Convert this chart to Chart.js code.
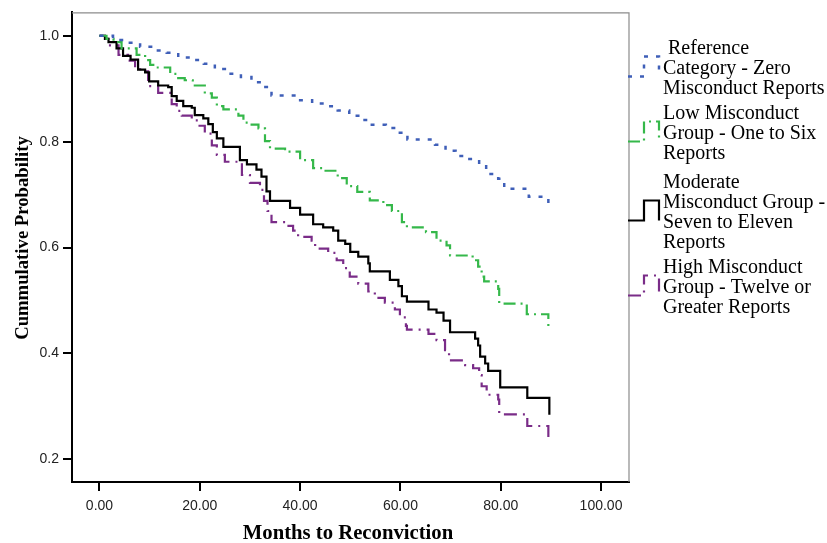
<!DOCTYPE html>
<html>
<head>
<meta charset="utf-8">
<script src="https://cdn.jsdelivr.net/npm/chart.js@4.4.0/dist/chart.umd.min.js"></script>
<style>
  html, body { margin: 0; padding: 0; background: #fff; }
  #wrap { width: 827px; height: 543px; position: relative; }
</style>
</head>
<body>
<div id="wrap"><canvas id="km" width="827" height="543"></canvas></div>
<script>
// Kaplan-Meier style curves: month of each drop and the survival value after it
const zeroMonths = [0, 2.7, 5.4, 8.1, 10.6, 13.4, 15.7, 18.4, 20.8, 23.0, 25.6, 28.2, 30.3, 32.6, 34.3, 39.6, 42.4, 45.0, 47.5, 49.8, 52.3, 54.3, 57.1, 59.4, 61.4, 66.9, 69.0, 71.0, 73.5, 75.7, 77.1, 79.5, 80.7, 85.6, 89.5];
const zeroSurv = [1.0, 0.992, 0.987, 0.979, 0.972, 0.968, 0.959, 0.954, 0.947, 0.937, 0.928, 0.922, 0.912, 0.903, 0.887, 0.878, 0.872, 0.867, 0.859, 0.849, 0.841, 0.832, 0.826, 0.817, 0.804, 0.794, 0.783, 0.773, 0.767, 0.757, 0.739, 0.730, 0.711, 0.696, 0.675];

const lowMonths = [0, 1.4, 2.8, 4.4, 7.4, 9.1, 10.1, 11.4, 14.1, 15.4, 17.0, 18.6, 21.0, 22.4, 23.4, 24.7, 27.7, 28.7, 30.0, 31.7, 33.0, 34.0, 37.0, 40.0, 42.6, 44.6, 47.5, 49.3, 51.4, 53.9, 56.6, 58.3, 60.3, 61.3, 65.1, 67.2, 69.2, 69.9, 74.4, 75.5, 76.2, 76.7, 79.5, 79.7, 85.2, 89.5];
const lowSurv = [1.0, 0.994, 0.988, 0.976, 0.964, 0.954, 0.945, 0.940, 0.928, 0.920, 0.916, 0.906, 0.891, 0.883, 0.867, 0.861, 0.849, 0.836, 0.832, 0.825, 0.801, 0.787, 0.781, 0.765, 0.750, 0.745, 0.731, 0.716, 0.705, 0.689, 0.680, 0.669, 0.648, 0.638, 0.629, 0.613, 0.604, 0.585, 0.576, 0.564, 0.545, 0.536, 0.522, 0.494, 0.474, 0.452];

const moderateMonths = [0, 1.1, 1.8, 3.4, 4.7, 6.2, 7.7, 9.1, 9.9, 11.7, 13.7, 14.4, 15.4, 16.7, 18.4, 19.0, 20.7, 21.7, 22.6, 23.4, 24.7, 28.0, 29.4, 31.3, 32.3, 33.3, 34.0, 38.0, 40.0, 42.6, 44.6, 46.6, 47.6, 49.0, 50.0, 51.6, 53.6, 53.9, 57.9, 59.6, 60.3, 61.3, 65.6, 67.2, 68.6, 69.9, 74.9, 75.5, 75.9, 76.9, 77.5, 79.9, 85.3, 89.7];
const moderateSurv = [1.0, 0.994, 0.988, 0.976, 0.962, 0.955, 0.936, 0.931, 0.914, 0.906, 0.903, 0.886, 0.877, 0.867, 0.864, 0.850, 0.844, 0.833, 0.818, 0.806, 0.790, 0.765, 0.757, 0.747, 0.734, 0.706, 0.688, 0.675, 0.662, 0.644, 0.638, 0.632, 0.613, 0.607, 0.592, 0.583, 0.570, 0.555, 0.539, 0.527, 0.508, 0.498, 0.483, 0.477, 0.462, 0.440, 0.428, 0.415, 0.394, 0.381, 0.367, 0.336, 0.316, 0.284];

const highMonths = [0, 1.1, 2.1, 3.8, 5.7, 7.1, 8.1, 9.7, 11.7, 14.4, 15.4, 16.4, 18.4, 19.7, 21.0, 22.4, 23.4, 25.0, 28.4, 30.0, 32.0, 32.8, 33.5, 34.3, 37.3, 38.6, 39.6, 42.3, 43.0, 45.6, 47.3, 48.6, 49.9, 51.6, 53.6, 54.9, 56.9, 58.9, 59.9, 61.1, 61.3, 65.6, 67.2, 68.9, 69.7, 72.9, 74.5, 75.7, 76.2, 77.2, 79.5, 79.7, 85.3, 89.5];
const highSurv = [1.0, 0.994, 0.982, 0.964, 0.953, 0.939, 0.933, 0.905, 0.892, 0.871, 0.858, 0.849, 0.840, 0.830, 0.815, 0.793, 0.775, 0.762, 0.737, 0.722, 0.709, 0.688, 0.669, 0.648, 0.641, 0.632, 0.620, 0.613, 0.598, 0.590, 0.576, 0.561, 0.545, 0.532, 0.517, 0.505, 0.496, 0.483, 0.468, 0.452, 0.445, 0.437, 0.425, 0.406, 0.387, 0.378, 0.372, 0.359, 0.338, 0.322, 0.313, 0.285, 0.263, 0.234];

const xTicks = [0, 20, 40, 60, 80, 100];
const yTicks = [0.2, 0.4, 0.6, 0.8, 1.0];

const legendLines = [
  [" Reference", "Category - Zero", "Misconduct Reports"],
  ["Low Misconduct", "Group - One to Six", "Reports"],
  ["Moderate", "Misconduct Group -", "Seven to Eleven", "Reports"],
  ["High Misconduct", "Group - Twelve or", "Greater Reports"]
];

const colors = ["#3f5fb8", "#35b84a", "#000000", "#7a2c88"];
const dashes = [[4, 8], [12, 5, 2, 5], [], [13, 6, 2, 6]];
const widths = [2.5, 2.2, 2.2, 2.2];

function toPoints(months, surv) {
  return months.map((m, i) => ({ x: m, y: surv[i] }));
}

const series = [
  toPoints(zeroMonths, zeroSurv),
  toPoints(lowMonths, lowSurv),
  toPoints(moderateMonths, moderateSurv),
  toPoints(highMonths, highSurv)
];

const serif = "'Liberation Serif', 'Times New Roman', serif";
const sans = "'Liberation Sans', Arial, sans-serif";

// titles, frame and the step-shaped legend keys
const decor = {
  id: "decor",
  afterDraw(chart) {
    const ctx = chart.ctx;
    const a = chart.chartArea;
    ctx.save();
    ctx.strokeStyle = "#8c8c8c";
    ctx.lineWidth = 1.2;
    ctx.beginPath();
    ctx.moveTo(a.left, a.top + 0.5);
    ctx.lineTo(a.right, a.top + 0.5);
    ctx.lineTo(a.right, a.bottom);
    ctx.stroke();

    ctx.fillStyle = "#000";
    ctx.textAlign = "center";
    ctx.textBaseline = "middle";
    ctx.font = "bold 20.7px " + serif;
    ctx.fillText("Months to Reconviction", 348, 534);
    ctx.save();
    ctx.font = "bold 18.7px " + serif;
    ctx.translate(23, 238);
    ctx.rotate(-Math.PI / 2);
    ctx.fillText("Cummulative Probability", 0, 0);
    ctx.restore();

    ctx.font = "20px " + serif;
    ctx.textAlign = "left";
    const groupTop = [49, 114, 183, 268];
    legendLines.forEach((lines, g) => {
      lines.forEach((t, i) => ctx.fillText(t, 663, groupTop[g] + i * 20));
      const mid = groupTop[g] + (lines.length - 1) * 10 - 2.5;
      const yt = mid - 10, yb = mid + 10;
      ctx.strokeStyle = colors[g];
      ctx.lineWidth = widths[g];
      ctx.setLineDash(dashes[g]);
      ctx.beginPath();
      ctx.moveTo(628, yb);
      ctx.lineTo(644, yb);
      ctx.lineTo(644, yt);
      ctx.lineTo(659, yt);
      ctx.lineTo(659, yb);
      ctx.stroke();
    });
    ctx.restore();
  }
};

new Chart(document.getElementById("km"), {
  type: "line",
  data: {
    datasets: series.map((pts, i) => ({
      data: pts,
      borderColor: colors[i],
      borderWidth: widths[i],
      borderDash: dashes[i],
      stepped: "before",
      pointRadius: 0,
      fill: false
    }))
  },
  options: {
    responsive: false,
    animation: false,
    devicePixelRatio: 1,
    layout: { padding: { top: 5, right: 198, left: 0, bottom: 0 } },
    plugins: { legend: { display: false }, tooltip: { enabled: false } },
    scales: {
      x: {
        type: "linear",
        min: -5.48,
        max: 105.58,
        afterBuildTicks: (s) => { s.ticks = xTicks.map((v) => ({ value: v })); },
        afterFit: (s) => { s.height = 61; },
        ticks: {
          callback: (v) => Number(v).toFixed(2),
          font: { family: sans, size: 14 },
          color: "#222",
          padding: 7,
          maxRotation: 0
        },
        grid: { drawOnChartArea: false, drawTicks: true, tickLength: 9, color: "#000", lineWidth: 2 },
        border: { display: true, color: "#000", width: 2 }
      },
      y: {
        type: "linear",
        min: 0.1572,
        max: 1.0441,
        afterBuildTicks: (s) => { s.ticks = yTicks.map((v) => ({ value: v })); },
        afterFit: (s) => { s.width = 72; },
        ticks: {
          callback: (v) => Number(v).toFixed(1),
          font: { family: sans, size: 14 },
          color: "#222",
          padding: 4
        },
        grid: { drawOnChartArea: false, drawTicks: true, tickLength: 9, color: "#000", lineWidth: 2 },
        border: { display: true, color: "#000", width: 2 }
      }
    }
  },
  plugins: [decor]
});
</script>
</body>
</html>
